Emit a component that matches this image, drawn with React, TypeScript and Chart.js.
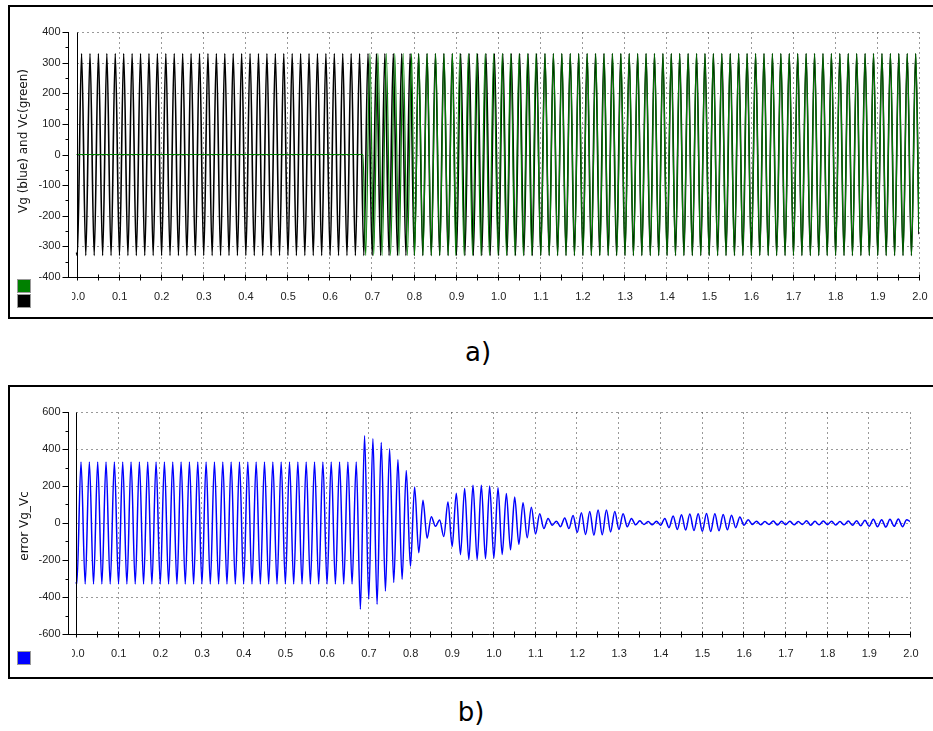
import React, { useEffect, useRef } from 'react';
import { Chart, registerables } from 'chart.js';

Chart.register(...registerables);

// ---------------- DATA ----------------
// x tick labels (seconds)
const xTickLabels = ['0.0', '0.1', '0.2', '0.3', '0.4', '0.5', '0.6', '0.7', '0.8', '0.9', '1.0',
  '1.1', '1.2', '1.3', '1.4', '1.5', '1.6', '1.7', '1.8', '1.9', '2.0'];
// y tick labels
const yTicksA = [400, 300, 200, 100, 0, -100, -200, -300, -400];
const yTicksB = [600, 400, 200, 0, -200, -400, -600];

// 50 Hz signals: one extremum every half period, first trough at 2 ms
const PERIOD = 0.02; // s
const FIRST_TROUGH_T = 0.002; // s
const CYCLES = 100;
const CYCLES_PER_SEGMENT = 5; // segments of 0.1 s

// Vg (black) peak amplitude per 0.1 s segment, V
const vgAmplitude = [330, 330, 330, 330, 330, 330, 330, 330, 330, 330,
  330, 330, 330, 330, 330, 330, 330, 330, 330, 330];
const vgStart = -320;
const vgEnd = -260;

// Vc (green): zero until the converter starts, then ~330 V peak
const VC_START_T = 0.68;
const vcAmplitude = [0, 0, 0, 0, 0, 0, 330, 330, 330, 330,
  330, 330, 330, 330, 330, 330, 330, 330, 330, 330];
// Vc time shift relative to Vg per 0.1 s segment, ms (estimated)
const vcShiftMs = [0, 0, 0, 0, 0, 0, 4.5, 3.5, 0.5, -1.8,
  -1.2, 0.2, 0.6, 0.2, -0.3, -0.4, 0.1, 0.1, 0.1, 0.2];
const vcEnd = -250;

// error Vg_Vc: value at each cycle's trough time (2 ms + 20 ms*k) and peak time (12 ms + 20 ms*k)
const errTrough = [
  -330, -330, -330, -330, -330, -330, -330, -330, -330, -330,
  -330, -330, -330, -330, -330, -330, -330, -330, -330, -330,
  -330, -330, -330, -330, -330, -330, -330, -330, -330, -330,
  -330, -330, -330, -330, -466, -412, -439, -368, -322, -305,
  -234, -161, -82, -18, -73, -127, -171, -198, -198, -193,
  -190, -170, -145, -115, -80, -60, -30, -12, -20, -30,
  -50, -62, -66, -64, -48, -35, -20, -10, -8, -10,
  -12, -25, -35, -38, -40, -45, -46, -42, -37, -25,
  -12, -8, -10, -8, -11, -9, -10, -8, -12, -10,
  -9, -11, -10, -12, -15, -18, -20, -22, -18, -20,
];
const errPeak = [
  330, 330, 330, 330, 330, 330, 330, 330, 330, 330,
  330, 330, 330, 330, 330, 330, 330, 330, 330, 330,
  330, 330, 330, 330, 330, 330, 330, 330, 330, 330,
  330, 330, 330, 330, 471, 455, 435, 401, 343, 284,
  195, 123, 34, 16, 114, 161, 187, 204, 204, 200,
  190, 160, 140, 110, 85, 50, 25, 10, 27, 40,
  55, 62, 70, 70, 62, 50, 25, 12, 8, 10,
  25, 38, 45, 48, 50, 52, 50, 46, 42, 32,
  18, 10, 8, 11, 9, 10, 8, 12, 9, 11,
  10, 8, 11, 12, 15, 20, 18, 20, 22, 18,
];
const errStart = -320;
const errEnd = 8;

// ---------------- SERIES BUILDERS ----------------
type P = { x: number; y: number };

function buildVg(): P[] {
  const pts: P[] = [{ x: 0, y: vgStart }];
  for (let k = 0; k < CYCLES; k++) {
    const a = vgAmplitude[Math.floor(k / CYCLES_PER_SEGMENT)];
    const t = FIRST_TROUGH_T + k * PERIOD;
    pts.push({ x: t, y: -a });
    pts.push({ x: t + PERIOD / 2, y: a });
  }
  pts.push({ x: 2.0, y: vgEnd });
  return pts;
}

function buildVc(): P[] {
  const pts: P[] = [{ x: 0, y: 0 }, { x: VC_START_T, y: 0 }];
  for (let k = 0; k < CYCLES; k++) {
    const seg = Math.floor(k / CYCLES_PER_SEGMENT);
    const a = vcAmplitude[seg];
    const sh = vcShiftMs[seg] / 1000;
    const t = FIRST_TROUGH_T + k * PERIOD + sh;
    if (t > VC_START_T + 0.004) pts.push({ x: t, y: -a });
    if (t + PERIOD / 2 > VC_START_T + 0.004) pts.push({ x: t + PERIOD / 2, y: a });
  }
  pts.push({ x: 2.0, y: vcEnd });
  return pts;
}

function buildErr(): P[] {
  const pts: P[] = [{ x: 0, y: errStart }];
  for (let k = 0; k < CYCLES; k++) {
    const t = FIRST_TROUGH_T + k * PERIOD;
    pts.push({ x: t, y: errTrough[k] });
    pts.push({ x: t + PERIOD / 2, y: errPeak[k] });
  }
  pts.push({ x: 2.0, y: errEnd });
  return pts;
}

// ---------------- DRAWING HELPERS ----------------
const TICK_FONT = '11px "Liberation Sans", Arial, sans-serif';
const TITLE_FONT = '12px "DejaVu Sans", Verdana, sans-serif';

interface PanelCfg {
  id: string;
  yTicks: number[];
  title: string;
  titleX: number;
  titleY: number;
  legend: { color: string; y: number }[];
}

function line(ctx: CanvasRenderingContext2D, x1: number, y1: number, x2: number, y2: number) {
  ctx.beginPath();
  ctx.moveTo(x1, y1);
  ctx.lineTo(x2, y2);
  ctx.stroke();
}

function panelPlugin(cfg: PanelCfg) {
  const yMin = Math.min(...cfg.yTicks);
  const yMax = Math.max(...cfg.yTicks);
  return {
    id: 'panel_' + cfg.id,
    beforeDatasetsDraw(chart: any) {
      const { ctx } = chart;
      const xs = chart.scales.x;
      const ys = chart.scales.y;
      const x0 = Math.round(xs.getPixelForValue(0)) + 0.5;
      const x2 = Math.round(xs.getPixelForValue(2)) + 0.5;
      const yT = Math.round(ys.getPixelForValue(yMax)) + 0.5;
      const yB = Math.round(ys.getPixelForValue(yMin)) + 0.5;
      ctx.save();
      ctx.strokeStyle = '#333';
      ctx.lineWidth = 1;
      ctx.setLineDash([1, 4]);
      cfg.yTicks.forEach((v) => {
        if (v === yMin) return;
        const y = Math.round(ys.getPixelForValue(v)) + 0.5;
        line(ctx, x0, y, x2, y);
      });
      xTickLabels.forEach((lab) => {
        const v = parseFloat(lab);
        if (v === 0) return;
        const x = Math.round(xs.getPixelForValue(v)) + 0.5;
        line(ctx, x, yT, x, yB);
      });
      ctx.restore();
    },
    afterDatasetsDraw(chart: any) {
      const { ctx, chartArea } = chart;
      const xs = chart.scales.x;
      const ys = chart.scales.y;
      const axX = Math.round(chartArea.left) + 0.5;
      const x0 = Math.round(xs.getPixelForValue(0)) + 0.5;
      const x2 = Math.round(xs.getPixelForValue(2)) + 0.5;
      const yT = Math.round(ys.getPixelForValue(yMax)) + 0.5;
      const yB = Math.round(ys.getPixelForValue(yMin)) + 0.5;
      ctx.save();
      ctx.strokeStyle = '#000';
      ctx.lineWidth = 1;
      ctx.setLineDash([]);
      // axes
      line(ctx, axX, yT - 0.5, axX, yB + 0.5);
      line(ctx, axX, yB, x2 + 0.5, yB);
      // origin line at t = 0
      line(ctx, x0, yT, x0, yB);
      // y ticks (major + minor midpoints)
      const sorted = [...cfg.yTicks].sort((a, b) => a - b);
      sorted.forEach((v, i) => {
        const y = Math.round(ys.getPixelForValue(v)) + 0.5;
        line(ctx, axX - 6, y, axX, y);
        if (i < sorted.length - 1) {
          const m = (v + sorted[i + 1]) / 2;
          const ym = Math.round(ys.getPixelForValue(m)) + 0.5;
          line(ctx, axX - 3, ym, axX, ym);
        }
      });
      // x ticks (major + minor midpoints), crossing the axis
      xTickLabels.forEach((lab, i) => {
        const v = parseFloat(lab);
        const x = Math.round(xs.getPixelForValue(v)) + 0.5;
        line(ctx, x, yB - 3, x, yB + 3);
        if (i < xTickLabels.length - 1) {
          const m = (v + parseFloat(xTickLabels[i + 1])) / 2;
          const xm = Math.round(xs.getPixelForValue(m)) + 0.5;
          line(ctx, xm, yB - 3, xm, yB + 3);
        }
      });
      // y labels
      ctx.fillStyle = '#222';
      ctx.font = TICK_FONT;
      ctx.textAlign = 'right';
      ctx.textBaseline = 'middle';
      cfg.yTicks.forEach((v) => {
        ctx.fillText(String(v), axX - 8, ys.getPixelForValue(v));
      });
      // x labels (clipped at the left like the original)
      ctx.save();
      ctx.beginPath();
      ctx.rect(72, 0, chart.width, chart.height);
      ctx.clip();
      ctx.textAlign = 'center';
      xTickLabels.forEach((lab) => {
        ctx.fillText(lab, xs.getPixelForValue(parseFloat(lab)) + 1, yB + 19);
      });
      ctx.restore();
      // y title
      ctx.save();
      ctx.translate(cfg.titleX, cfg.titleY);
      ctx.rotate(-Math.PI / 2);
      ctx.font = TITLE_FONT;
      ctx.fillStyle = '#111';
      ctx.textAlign = 'center';
      ctx.textBaseline = 'middle';
      ctx.fillText(cfg.title, 0, 0);
      ctx.restore();
      // legend squares
      cfg.legend.forEach((l) => {
        ctx.fillStyle = l.color;
        ctx.fillRect(18, l.y, 12, 12);
        ctx.strokeStyle = '#999';
        ctx.strokeRect(17.5, l.y - 0.5, 13, 13);
      });
      ctx.restore();
    },
  };
}

// ---------------- LAYOUT ----------------
const PAGE_W = 933;
const A_TOP = 0;
const A_H = 335;
const B_TOP = 380;
const B_H = 300;

export default function App() {
  const refA = useRef<HTMLCanvasElement>(null);
  const refB = useRef<HTMLCanvasElement>(null);

  useEffect(() => {
    const common = (xMin: number, yMin: number, yMax: number, padding: any) => ({
      responsive: false,
      maintainAspectRatio: false,
      animation: false as const,
      devicePixelRatio: 1,
      layout: { padding },
      plugins: { legend: { display: false }, tooltip: { enabled: false } },
      events: [] as any[],
      elements: { point: { radius: 0 } },
      scales: {
        x: { type: 'linear' as const, display: false, min: xMin, max: 2.0 },
        y: { type: 'linear' as const, display: false, min: yMin, max: yMax },
      },
    });

    const chartA = new Chart(refA.current!, {
      type: 'line',
      data: {
        datasets: [
          {
            label: 'Vc',
            data: buildVc(),
            borderColor: '#008000',
            borderWidth: 1.2,
            cubicInterpolationMode: 'monotone',
            pointRadius: 0,
          },
          {
            label: 'Vg',
            data: buildVg(),
            borderColor: '#000000',
            borderWidth: 1.6,
            cubicInterpolationMode: 'monotone',
            pointRadius: 0,
          },
        ],
      },
      options: common(-0.0202, -400, 400, { left: 68, top: 32, right: PAGE_W - 919, bottom: A_H - 277 }) as any,
      plugins: [
        panelPlugin({
          id: 'a',
          yTicks: yTicksA,
          title: 'Vg (blue) and Vc(green)',
          titleX: 24,
          titleY: 141,
          legend: [
            { color: '#008000', y: 280 },
            { color: '#000000', y: 295 },
          ],
        }),
      ],
    });

    const chartB = new Chart(refB.current!, {
      type: 'line',
      data: {
        datasets: [
          {
            label: 'error Vg_Vc',
            data: buildErr(),
            borderColor: '#0000ff',
            borderWidth: 1.5,
            cubicInterpolationMode: 'monotone',
            pointRadius: 0,
          },
        ],
      },
      options: common(-0.0192, -600, 600, { left: 68, top: 32, right: PAGE_W - 910, bottom: B_H - 254 }) as any,
      plugins: [
        panelPlugin({
          id: 'b',
          yTicks: yTicksB,
          title: 'error Vg_Vc',
          titleX: 25,
          titleY: 526 - B_TOP,
          legend: [{ color: '#0000ff', y: 652 - B_TOP }],
        }),
      ],
    });

    return () => {
      chartA.destroy();
      chartB.destroy();
    };
  }, []);

  const box = (top: number, height: number): React.CSSProperties => ({
    position: 'absolute',
    left: 8,
    top,
    width: 960,
    height,
    border: '2px solid #000',
    boxSizing: 'border-box',
  });
  const label: React.CSSProperties = {
    position: 'absolute',
    font: '26px "DejaVu Sans", Verdana, sans-serif',
    color: '#000',
    transform: 'translate(-50%, -50%)',
    whiteSpace: 'nowrap',
  };

  return (
    <div
      style={{
        position: 'absolute',
        left: 0,
        top: 0,
        width: PAGE_W,
        height: 731,
        overflow: 'hidden',
        background: '#fff',
      }}
    >
      <div style={box(5, 314)} />
      <div style={box(385, 294)} />
      <canvas
        ref={refA}
        width={PAGE_W}
        height={A_H}
        style={{ position: 'absolute', left: 0, top: A_TOP, width: PAGE_W, height: A_H }}
      />
      <canvas
        ref={refB}
        width={PAGE_W}
        height={B_H}
        style={{ position: 'absolute', left: 0, top: B_TOP, width: PAGE_W, height: B_H }}
      />
      <div style={{ ...label, left: 478, top: 352 }}>a)</div>
      <div style={{ ...label, left: 471, top: 712 }}>b)</div>
    </div>
  );
}
